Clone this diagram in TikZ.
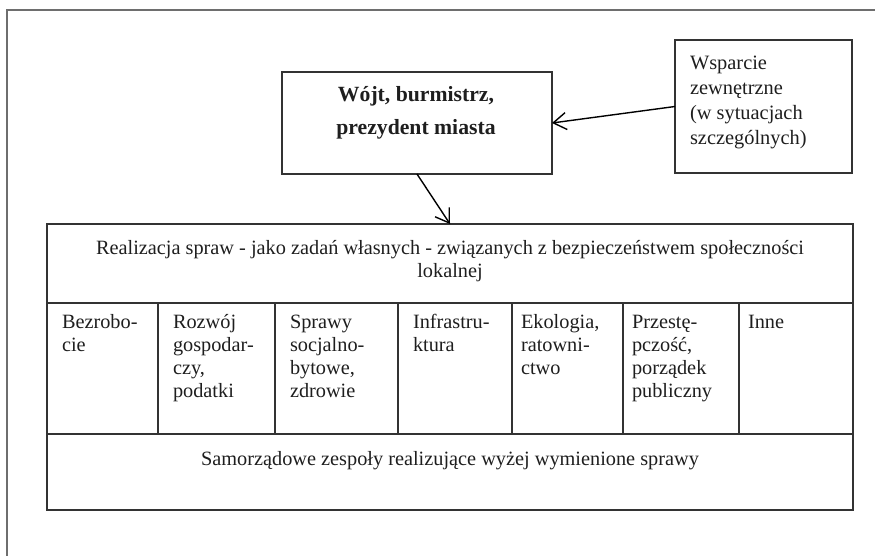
\documentclass[tikz,border=0pt]{standalone}
\usepackage{fontspec}
\setmainfont{Liberation Serif}
\usetikzlibrary{arrows.meta}
\definecolor{ink}{HTML}{1E1E1E}
\definecolor{rulegray}{HTML}{333333}
\definecolor{framegray}{HTML}{6E6E6E}
% stacked lines spaced by the current \baselineskip; baseline on the first line
\newcommand{\stack}[2]{%
  \setbox\strutbox\hbox{\vrule height.7\baselineskip depth.3\baselineskip width0pt}%
  \begin{tabular}[t]{@{}#1@{}}#2\end{tabular}}
\begin{document}
\begin{tikzpicture}[x=1pt,y=-1pt,
  box/.style={draw=rulegray, line width=1.4pt, rectangle, inner sep=0pt, outer sep=0pt, anchor=north west},
  txt/.style={inner sep=0pt, outer sep=0pt, text=ink},
  body/.style={font=\fontsize{20.3}{24}\selectfont},
  cellfont/.style={font=\fontsize{20.3}{23.3}\selectfont},
  arr/.style={draw=black, line width=1.4pt, -{Straight Barb[length=13pt,width=17pt,line width=1.4pt]}}
]
\useasboundingbox (0,0) rectangle (875,556);

% page frame (top and left edges)
\draw[framegray, line width=1.4pt] (875,10) -- (7,10) -- (7,556);

% boxes
\node[box, minimum width=270, minimum height=102] (wojt) at (282,72) {};
\node[box, minimum width=177, minimum height=133] (wsp) at (675,40) {};
\node[box, minimum width=806, minimum height=79] (hdr) at (47,224) {};
\foreach \x/\w [count=\i] in {47/111,158/117,275/123,398/114,512/111,623/116,739/114}
  \node[box, minimum width=\w, minimum height=131] (cell\i) at (\x,303) {};
\node[box, minimum width=806, minimum height=76] (foot) at (47,434) {};

% texts
\node[txt, anchor=base, font=\bfseries\fontsize{21.7}{33}\selectfont] (wojtT) at (416,102)
  {\stack{c}{Wójt, burmistrz,\\prezydent miasta}};
\node[txt, anchor=base west, font=\fontsize{20.4}{25}\selectfont] (wspT) at (690,70)
  {\stack{l}{Wsparcie\\zewnętrzne\\(w sytuacjach\\szczególnych)}};
\node[txt, body, anchor=base] (hdrT) at (450,254)
  {\stack{c}{Realizacja spraw - jako zadań własnych - związanych z bezpieczeństwem społeczności\\lokalnej}};
\node[txt, body, anchor=base] (footT) at (450,465)
  {Samorządowe zespoły realizujące wyżej wymienione sprawy};

\foreach \x/\t [count=\i] in {62/{Bezrobo-\\cie},
    173/{Rozwój\\gospodar-\\czy,\\podatki},
    290/{Sprawy\\socjalno-\\bytowe,\\zdrowie},
    413/{Infrastru-\\ktura},
    521/{Ekologia,\\ratowni-\\ctwo},
    632/{Przestę-\\pczość,\\porządek\\publiczny},
    748/{Inne}}
  \node[txt, cellfont, anchor=base west] (cellT\i) at (\x,328) {\stack{l}{\t}};

% connectors
\draw[arr] (wsp.west) -- (wojt.east);
\draw[arr] (wojt.south) -- (hdr.north);
\end{tikzpicture}
\end{document}
